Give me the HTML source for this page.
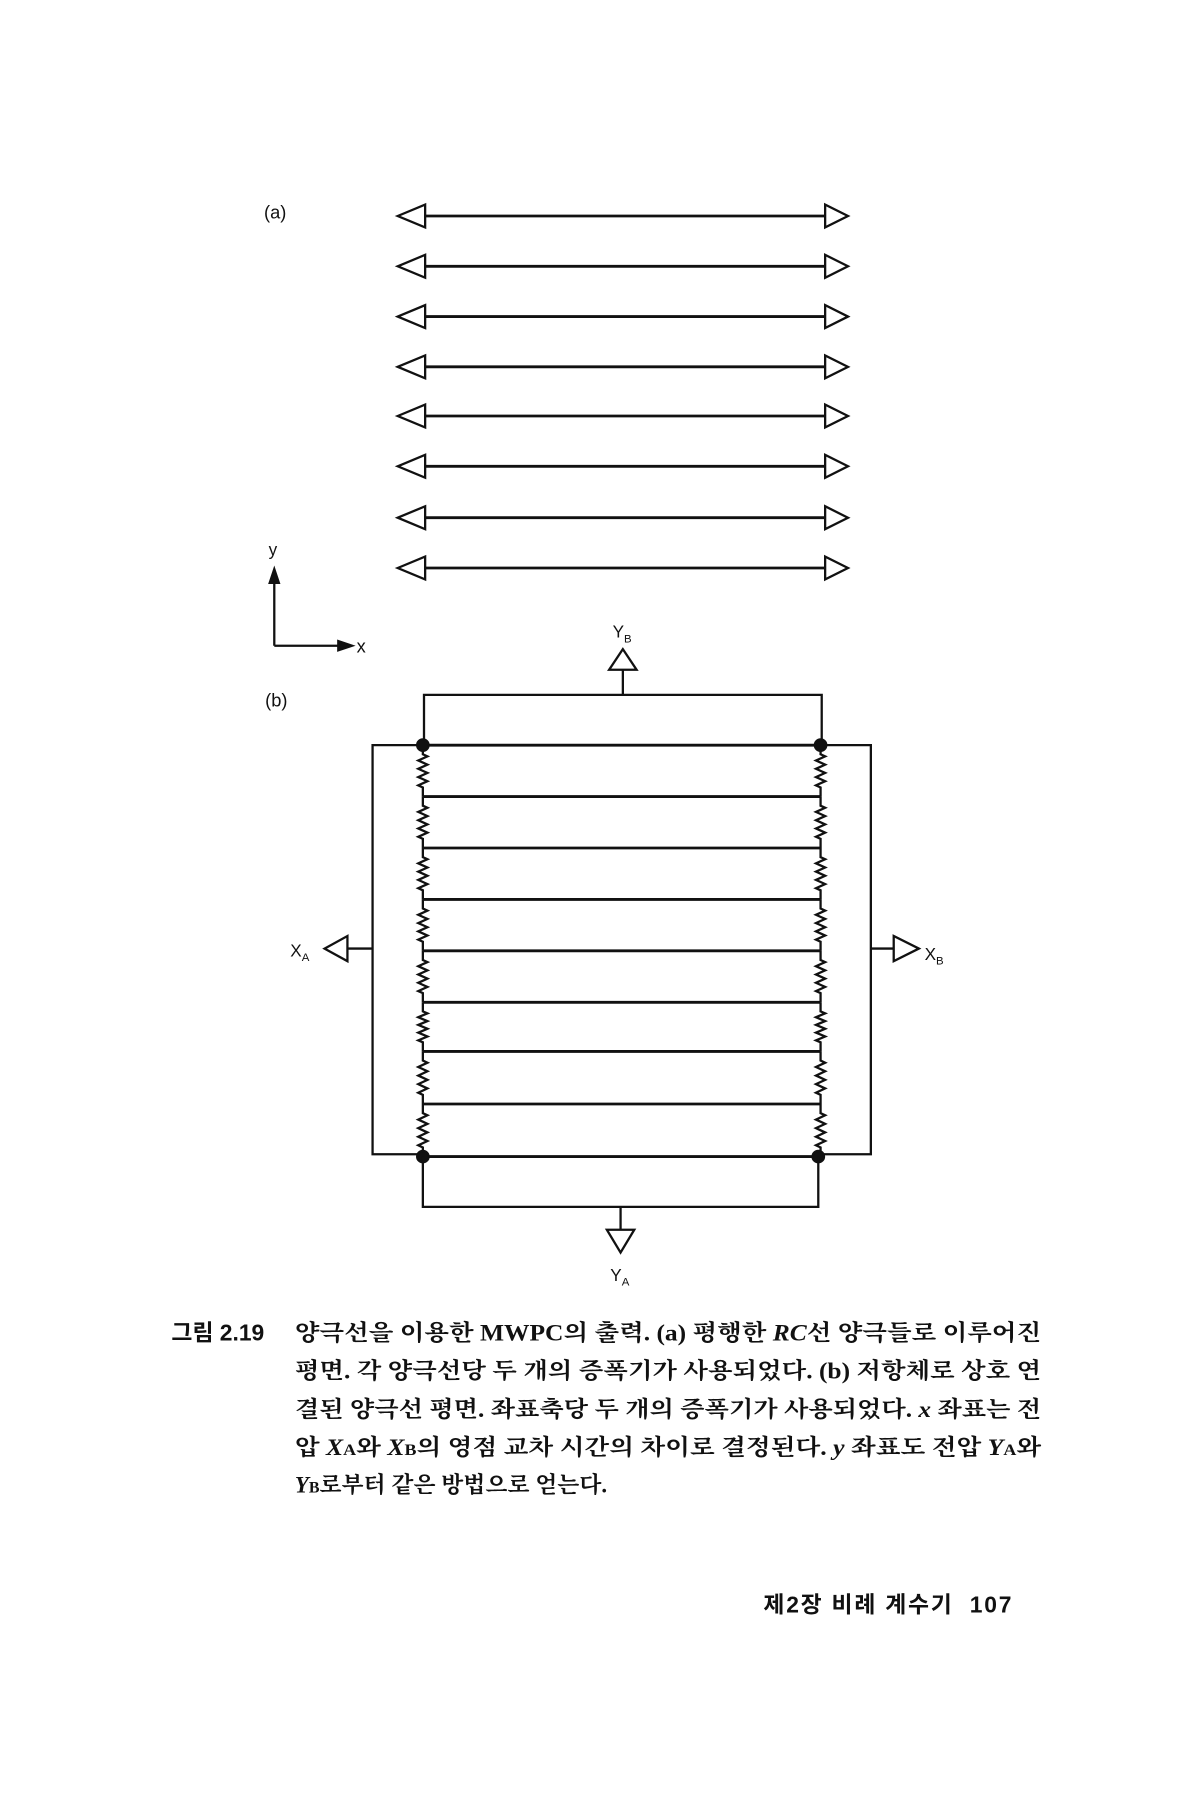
<!DOCTYPE html>
<html><head><meta charset="utf-8"><style>
html,body{margin:0;padding:0;background:#fff;width:1200px;height:1800px;overflow:hidden}
svg{display:block}
text{font-family:"Liberation Sans","Noto Sans CJK KR",sans-serif;fill:#111}
.k{font-family:"Liberation Serif","Noto Serif CJK SC","Noto Sans CJK KR",serif;font-size:20px;font-weight:bold}
</style></head><body>
<svg id="s" width="1200" height="1800" viewBox="0 0 1050 1575" xmlns="http://www.w3.org/2000/svg">
<g stroke="#111" fill="none" stroke-width="2" id="g"></g>
<text x="231" y="191" font-size="16">(a)</text>
<text x="235" y="486" font-size="15">y</text>
<text x="312" y="571" font-size="16">x</text>
<text x="232" y="618" font-size="16">(b)</text>
<text x="536" y="558" font-size="15">Y<tspan font-size="10" dy="4">B</tspan></text>
<text x="534" y="1121" font-size="15">Y<tspan font-size="10" dy="4">A</tspan></text>
<text x="254" y="837" font-size="15">X<tspan font-size="10" dy="4">A</tspan></text>
<text x="809" y="840" font-size="15">X<tspan font-size="10" dy="4">B</tspan></text>
<text class="k" x="150" y="1173" font-weight="normal" style="font-family:'Liberation Sans','Noto Sans CJK KR',sans-serif">그림 2.19</text>
<text class="k" x="258" y="1173" textLength="653" lengthAdjust="spacingAndGlyphs">양극선을 이용한 MWPC의 출력. (a) 평행한 <tspan font-style="italic">RC</tspan>선 양극들로 이루어진</text>
<text class="k" x="258" y="1206" textLength="653" lengthAdjust="spacingAndGlyphs">평면. 각 양극선당 두 개의 증폭기가 사용되었다. (b) 저항체로 상호 연</text>
<text class="k" x="258" y="1240" textLength="653" lengthAdjust="spacingAndGlyphs">결된 양극선 평면. 좌표축당 두 개의 증폭기가 사용되었다. <tspan font-style="italic">x</tspan> 좌표는 전</text>
<text class="k" x="258" y="1273" textLength="653" lengthAdjust="spacingAndGlyphs">압 <tspan font-style="italic">X</tspan><tspan font-size="14">A</tspan>와 <tspan font-style="italic">X</tspan><tspan font-size="14">B</tspan>의 영점 교차 시간의 차이로 결정된다. <tspan font-style="italic">y</tspan> 좌표도 전압 <tspan font-style="italic">Y</tspan><tspan font-size="14">A</tspan>와</text>
<text class="k" x="258" y="1306"><tspan font-style="italic">Y</tspan><tspan font-size="14">B</tspan>로부터 같은 방법으로 얻는다.</text>
<text x="668" y="1411" font-size="20" font-weight="bold" textLength="217" lengthAdjust="spacing" style="font-family:'Liberation Sans','Noto Sans CJK KR',sans-serif">제2장 비례 계수기 &#160;107</text>
</svg>
<script>
var g=document.getElementById('g'),h='';
function L(a,b,c,d,w){h+='<line x1="'+a+'" y1="'+b+'" x2="'+c+'" y2="'+d+'"'+(w?' stroke-width="'+w+'"':'')+'/>';}
function P(p){h+='<path d="'+p+'"/>';}
[189,233,277,321,364,408,453,497].forEach(function(y){
 P('M348 '+y+' L372 '+(y-10)+' L372 '+(y+10)+' Z');
 P('M742 '+y+' L722 '+(y-10)+' L722 '+(y+10)+' Z');
 L(372,y,722,y,2.5);
});
L(240,565,300,565);L(240,565,240,505);
h+='<path d="M240 498 L236 510 L244 510Z" fill="#111"/><path d="M308 565 L296 561 L296 569Z" fill="#111"/>';
P('M545 568 L533 586 L557 586 Z');L(545,586,545,608);
P('M371 652 L371 608 L719 608 L719 652');
P('M370 652 L326 652 L326 1010 L370 1010');P('M718 652 L762 652 L762 1010 L718 1010');
var rows=[652,697,742,787,832,877,920,966,1012];
rows.forEach(function(y){L(370,y,718,y,2.5);});
function zig(x,y1,y2){var d='M'+x+' '+y1+' L'+x+' '+(y1+8);var n=4,st=(y2-y1-16)/n;for(var i=0;i<n;i++){var y=y1+8+i*st;d+=' L'+(x+4)+' '+(y+st/4)+' L'+(x-4)+' '+(y+3*st/4)+' L'+x+' '+(y+st);}d+=' L'+x+' '+y2;P(d);}
for(var i=0;i<rows.length-1;i++){zig(370,rows[i],rows[i+1]);zig(718,rows[i],rows[i+1]);}
h+='<circle cx="370" cy="652" r="5" fill="#111"/><circle cx="718" cy="652" r="5" fill="#111"/><circle cx="370" cy="1012" r="5" fill="#111"/><circle cx="716" cy="1012" r="5" fill="#111"/>';
P('M370 1012 L370 1056 L716 1056 L716 1012');
L(543,1056,543,1076);P('M543 1096 L531 1076 L555 1076 Z');
L(326,830,304,830);P('M284 830 L304 819 L304 841 Z');
L(762,830,782,830);P('M804 830 L782 819 L782 841 Z');
g.innerHTML=h;
</script>
</body></html>
